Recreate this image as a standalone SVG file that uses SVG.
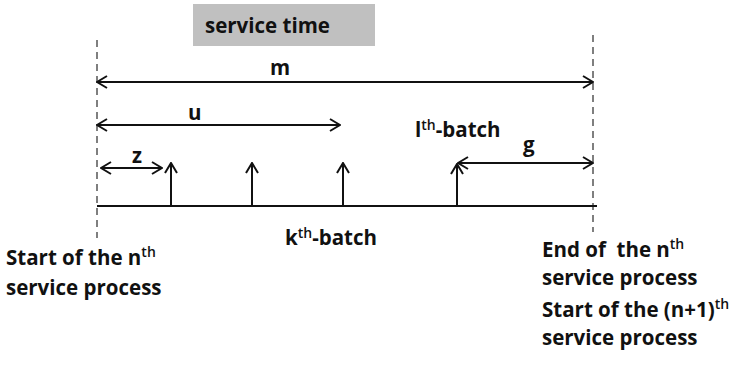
<svg xmlns="http://www.w3.org/2000/svg" width="740" height="366" viewBox="0 0 740 366">
  <style>
    .lbl { font-family: "Open Sans", "Liberation Sans", sans-serif; font-weight: bold; font-size: 20.5px; fill: #111; white-space: pre; }
    .sup { font-size: 14px; font-weight: 600; }
    .line { stroke: #111; stroke-width: 2; fill: none; }
    .dash { stroke: #555; stroke-width: 1.5; stroke-dasharray: 7 5; fill: none; }
  </style>
  <defs>
    <marker id="head" viewBox="0 0 12 14" refX="11" refY="7" markerWidth="12" markerHeight="14" markerUnits="userSpaceOnUse" orient="auto-start-reverse">
      <path d="M1,1 L11,7 L1,13" fill="none" stroke="#111" stroke-width="2"/>
    </marker>
  </defs>
  <rect width="740" height="366" fill="#fff"/>

  <g id="service-time">
    <rect x="193" y="4" width="182" height="42" fill="#c0c0c0"/>
    <text class="lbl" x="205" y="33">service time</text>
  </g>

  <g id="boundaries">
    <line class="dash" x1="97" y1="40" x2="97" y2="238"/>
    <line class="dash" x1="593" y1="35" x2="593" y2="232"/>
  </g>

  <g id="connectors">
    <line class="line" x1="97" y1="206" x2="597" y2="206"/>
    <line class="line" x1="97" y1="82" x2="593" y2="82" marker-start="url(#head)" marker-end="url(#head)"/>
    <line class="line" x1="97" y1="125" x2="340" y2="125" marker-start="url(#head)" marker-end="url(#head)"/>
    <line class="line" x1="101" y1="168" x2="162" y2="168" marker-start="url(#head)" marker-end="url(#head)"/>
    <line class="line" x1="458" y1="163" x2="593" y2="163" marker-start="url(#head)" marker-end="url(#head)"/>
    <line class="line" x1="171" y1="206" x2="171" y2="163" marker-end="url(#head)"/>
    <line class="line" x1="252" y1="206" x2="252" y2="163" marker-end="url(#head)"/>
    <line class="line" x1="343" y1="206" x2="343" y2="163" marker-end="url(#head)"/>
    <line class="line" x1="457" y1="206" x2="457" y2="164" marker-end="url(#head)"/>
  </g>

  <g id="labels">
    <text class="lbl" x="270" y="75">m</text>
    <text class="lbl" x="188" y="120">u</text>
    <text class="lbl" x="132" y="163">z</text>
    <text class="lbl" x="523" y="152">g</text>
    <text class="lbl" x="415" y="137">l<tspan class="sup" dy="-7">th</tspan><tspan dy="7">-batch</tspan></text>
    <text class="lbl" x="285" y="245">k<tspan class="sup" dy="-7">th</tspan><tspan dy="7">-batch</tspan></text>
  </g>

  <g id="start-node">
    <text class="lbl" x="6" y="265">Start of the n<tspan class="sup" dy="-8">th</tspan></text>
    <text class="lbl" x="6" y="295">service process</text>
  </g>

  <g id="end-node">
    <text class="lbl" x="542" y="257">End of  the n<tspan class="sup" dy="-8">th</tspan></text>
    <text class="lbl" x="542" y="285">service process</text>
    <text class="lbl" x="542" y="317">Start of the (n+1)<tspan class="sup" dy="-8">th</tspan></text>
    <text class="lbl" x="542" y="345">service process</text>
  </g>
</svg>
